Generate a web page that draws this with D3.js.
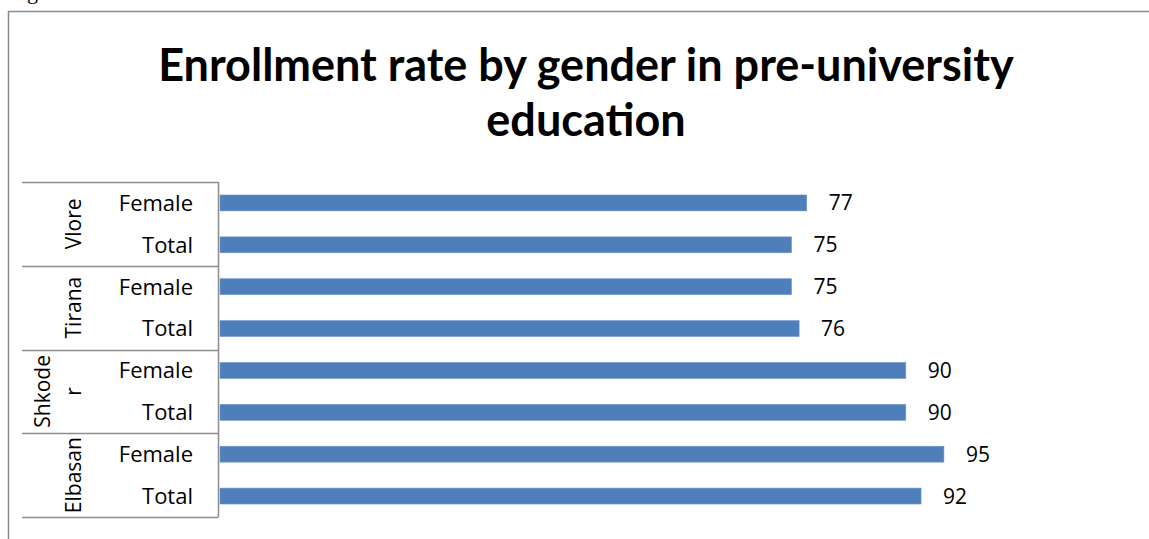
<!DOCTYPE html>
<html>
<head>
<meta charset="utf-8">
<script src="https://cdn.jsdelivr.net/npm/d3@7"></script>
<style>
  html, body { margin: 0; padding: 0; background: #fff; }
  svg { display: block; }
  text { font-family: "Open Sans", Lato, sans-serif; fill: #000; }
</style>
</head>
<body>
<svg id="chart" width="1149" height="539"></svg>
<script>
// Regions (top to bottom) and the lines each region name wraps onto
const regions = ["Vlore", "Tirana", "Shkoder", "Elbasan"];
const regionLines = [["Vlore"], ["Tirana"], ["Shkode", "r"], ["Elbasan"]];
const rowTypes = ["Female", "Total"];
// Enrollment rate (%) per region, per row type
const femaleValues = [77, 75, 90, 95];
const totalValues = [75, 76, 90, 92];
const titleLines = ["Enrollment rate by gender in pre-university", "education"];

const rows = [];
regions.forEach((r, i) => {
  rows.push({ region: r, type: rowTypes[0], value: femaleValues[i] });
  rows.push({ region: r, type: rowTypes[1], value: totalValues[i] });
});

const svg = d3.select("#chart");
const W = 1149, H = 539;

// tail of the caption line sitting above the frame
svg.append("text").attr("x", 27).attr("y", -1)
  .style("font-family", "Liberation Serif, serif").attr("font-size", 22).text("g");

// outer chart frame
svg.append("path")
  .attr("d", `M8.5,${H + 2}V11.5H${W + 2}`)
  .attr("fill", "none").attr("stroke", "#8c8c8c").attr("stroke-width", 1.5);

// title
svg.append("g").selectAll("text").data(titleLines).join("text")
  .attr("x", 586).attr("y", (d, i) => 81 + i * 55)
  .attr("text-anchor", "middle")
  .style("font-family", "Lato, sans-serif")
  .attr("font-size", 45).attr("font-weight", "bold")
  .text(d => d);

const plotTop = 182, plotBottom = 517, axisX = 218.5, boxLeft = 22;

const x = d3.scaleLinear().domain([0, 100]).range([220, 982]);
const y = d3.scaleBand()
  .domain(rows.map(d => d.region + "|" + d.type))
  .range([plotTop, plotBottom])
  .paddingInner(0.62).paddingOuter(0.31);
const yGroup = d3.scaleBand().domain(regions).range([plotTop, plotBottom]);

// bars
svg.append("g").selectAll("rect").data(rows).join("rect")
  .attr("x", x(0))
  .attr("y", d => y(d.region + "|" + d.type))
  .attr("width", d => x(d.value) - x(0))
  .attr("height", y.bandwidth())
  .attr("fill", "#4f7fbb")
  .attr("stroke", "#6f95c8").attr("stroke-width", 0.6);

// value labels
svg.append("g").selectAll("text").data(rows).join("text")
  .attr("x", d => x(d.value) + 22)
  .attr("y", d => y(d.region + "|" + d.type) + y.bandwidth() / 2)
  .attr("dy", "0.36em")
  .attr("font-size", 21)
  .text(d => d.value);

// category axis: grouping box
const axis = svg.append("g").attr("stroke", "#8c8c8c").attr("stroke-width", 1.5);
axis.append("line").attr("x1", axisX).attr("x2", axisX).attr("y1", plotTop).attr("y2", plotBottom);
const bounds = regions.map(r => yGroup(r)).concat([plotBottom]);
axis.selectAll("line.sep").data(bounds).join("line").attr("class", "sep")
  .attr("x1", boxLeft).attr("x2", axisX)
  .attr("y1", d => Math.round(d) + 0.5).attr("y2", d => Math.round(d) + 0.5);

// row labels
svg.append("g").selectAll("text").data(rows).join("text")
  .attr("x", 193)
  .attr("y", d => y(d.region + "|" + d.type) + y.bandwidth() / 2)
  .attr("dy", "0.36em")
  .attr("text-anchor", "end")
  .attr("font-size", 22)
  .text(d => d.type);

// region labels, rotated; wrapped names stack toward the left
const gl = svg.append("g").selectAll("text").data(regions).join("text")
  .attr("transform", r => `translate(73,${yGroup(r) + yGroup.bandwidth() / 2}) rotate(-90)`)
  .attr("text-anchor", "middle")
  .attr("font-size", 21);
gl.each(function(r, i) {
  const lines = regionLines[i];
  const t = d3.select(this);
  lines.forEach((ln, j) => {
    t.append("tspan").attr("x", 0)
      .attr("y", (j - (lines.length - 1)) * 31)
      .attr("dy", "0.36em").text(ln);
  });
});
</script>
</body>
</html>
